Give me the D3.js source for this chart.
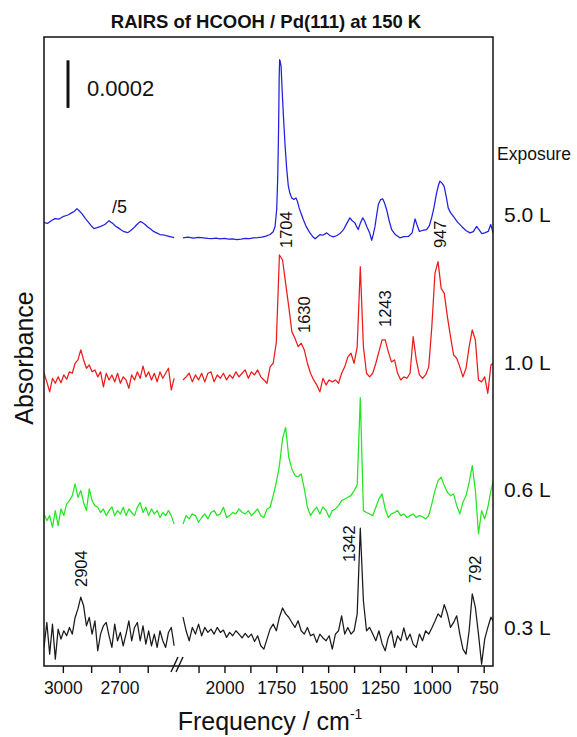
<!DOCTYPE html>
<html>
<head>
<meta charset="utf-8">
<script src="https://cdn.jsdelivr.net/npm/d3@7"></script>
<style>
  body { margin: 0; background: #fff; }
  svg { display: block; }
  text { font-family: "Liberation Sans", Arial, Helvetica, sans-serif; fill: #111; }
</style>
</head>
<body>
<svg id="chart" width="577" height="737"></svg>
<script>
// ---------------- data ----------------
// absorbance values are in units of 1e-4; each trace is stacked by its offset
const unit = 1e-4;
const scaleBarValue = 0.0002;

const exposures = ["5.0 L", "1.0 L", "0.6 L", "0.3 L"];
const offsets = [18.0, 12.1, 6.4, 1.4];

// sampling grids (cm-1) for the C-H region and the fingerprint region
const wnHigh = [3100,3085,3070,3055,3040,3025,3010,2995,2980,2965,2950,2935,2920,2905,2890,2875,
  2860,2845,2830,2815,2800,2785,2770,2755,2740,2725,2710,2695,2680,2665,2650,2635,2620,2605,2590,
  2575,2560,2545,2530,2515,2500,2485,2470,2455,2440,2425,2410];
const wnLow = [2200,2185,2170,2155,2140,2125,2110,2095,2080,2065,2050,2035,2020,2005,1990,1975,1960,
  1945,1930,1915,1900,1885,1870,1855,1840,1825,1810,1795,1780,1765,1750,1735,1720,1705,1690,1675,
  1660,1645,1630,1615,1600,1585,1570,1555,1540,1525,1510,1495,1480,1465,1450,1435,1420,1405,1390,
  1375,1360,1345,1330,1315,1300,1285,1270,1255,1240,1225,1210,1195,1180,1165,1150,1135,1120,1105,
  1090,1075,1060,1045,1030,1015,1000,985,970,955,940,925,910,895,880,865,850,835,820,805,790,775,
  760,745,730,715,705];

// 5.0 L (C-H region shown divided by 5)
const blueHigh = [[3100,0.63],[3080,0.60],[3060,0.72],[3042,0.80],[3020,0.78],[3000,0.88],[2985,0.92],
  [2970,0.96],[2952,1.05],[2940,1.10],[2925,1.22],[2912,1.12],[2899,1.01],[2880,0.80],[2867,0.67],
  [2850,0.50],[2835,0.38],[2818,0.42],[2803,0.46],[2777,0.55],[2762,0.66],[2755,0.71],[2745,0.65],
  [2734,0.59],[2720,0.48],[2708,0.42],[2690,0.32],[2676,0.25],[2655,0.21],[2640,0.30],[2628,0.38],
  [2607,0.55],[2595,0.64],[2586,0.67],[2575,0.62],[2564,0.55],[2550,0.45],[2538,0.38],[2517,0.25],
  [2500,0.19],[2485,0.13],[2470,0.12],[2453,0.08],[2432,0.04],[2410,0.00]];
const blueLow = [[2200,-0.01],[2175,0.02],[2150,-0.02],[2125,0.01],[2102,-0.01],[2080,-0.03],[2060,-0.04],
  [2040,-0.02],[2022,-0.05],[2000,-0.03],[1980,-0.06],[1960,-0.05],[1941,-0.08],[1920,-0.06],[1900,-0.03],
  [1880,-0.04],[1861,-0.01],[1840,0.00],[1820,0.02],[1800,0.06],[1780,0.13],[1765,0.25],[1756,0.47],
  [1748,1.20],[1743,2.60],[1739,4.60],[1736,6.80],[1734,7.48],[1731,7.40],[1727,7.20],[1722,6.20],
  [1715,5.00],[1708,3.90],[1700,2.90],[1692,2.16],[1684,1.85],[1676,1.67],[1665,1.60],[1655,1.67],
  [1648,1.52],[1640,1.25],[1630,1.00],[1620,0.76],[1605,0.45],[1588,0.20],[1575,0.05],[1563,-0.05],
  [1550,0.05],[1539,0.13],[1525,0.10],[1507,0.20],[1490,0.08],[1475,0.03],[1460,0.08],[1443,0.17],
  [1425,0.35],[1410,0.60],[1395,0.83],[1385,0.72],[1371,0.62],[1362,0.45],[1355,0.34],[1345,0.60],
  [1333,0.83],[1324,0.70],[1314,0.47],[1300,0.20],[1290,-0.11],[1282,0.15],[1274,0.47],[1266,0.95],
  [1258,1.39],[1247,1.60],[1237,1.63],[1228,1.45],[1218,1.18],[1206,0.72],[1194,0.34],[1175,0.12],
  [1154,-0.01],[1135,0.04],[1113,0.05],[1095,0.20],[1081,0.79],[1072,0.55],[1060,0.26],[1045,0.30],
  [1025,0.34],[1012,0.50],[1001,0.83],[990,1.25],[977,1.88],[968,2.20],[961,2.37],[952,2.30],
  [941,2.16],[930,1.70],[921,1.25],[910,1.05],[896,0.89],[876,0.65],[856,0.47],[836,0.30],[816,0.20],
  [800,0.25],[784,0.47],[770,0.30],[759,0.17],[745,0.20],[728,0.26],[716,0.55],[710,0.38],[705,0.20]];

// 1.0 L
const redHigh = [0.21,-0.16,-0.58,-0.01,-0.22,0.05,-0.20,0.13,-0.05,0.26,0.20,0.62,0.76,1.18,0.76,0.41,
  0.55,0.26,0.34,0.05,0.26,-0.37,0.20,-0.08,0.13,-0.16,0.20,-0.22,0.05,-0.08,-0.43,0.13,-0.08,0.26,
  -0.01,0.50,0.05,0.26,-0.08,0.20,-0.16,0.26,-0.01,0.20,0.41,-0.50,-0.01];
const redLow = [-0.08,0.05,0.20,-0.16,0.13,-0.08,0.20,-0.16,0.20,0.26,
  -0.16,0.13,-0.01,0.20,-0.08,0.13,-0.01,0.26,0.05,0.20,
  0.34,-0.01,0.26,0.13,0.34,0.05,-0.08,-0.22,0.47,0.62,
  1.50,5.17,4.96,3.98,3.00,1.95,1.67,1.32,1.46,1.18,
  0.62,0.20,-0.08,-0.29,-0.58,-0.01,-0.29,-0.08,-0.16,-0.08,
  -0.22,0.20,0.47,0.89,1.04,0.62,1.30,4.68,1.32,0.20,
  0.05,0.20,0.62,1.11,1.60,1.60,1.11,0.68,0.76,0.20,
  -0.08,0.05,-0.01,0.20,1.74,0.76,0.13,-0.01,0.13,0.47,
  2.16,4.40,4.89,3.77,3.56,2.58,1.74,0.97,0.83,0.47,
  0.05,0.41,1.32,2.02,1.60,-0.08,-0.16,0.05,-0.64,0.55,
  0.62];

// 0.6 L
const greenHigh = [-0.01,-0.29,-0.08,-0.57,0.13,-0.50,0.20,-0.08,0.41,0.55,0.76,1.25,0.69,0.97,0.47,
  0.13,1.04,0.55,0.34,0.27,0.05,0.20,-0.08,0.13,0.29,-0.08,0.13,-0.01,0.27,-0.08,0.20,0.05,-0.08,
  0.27,0.47,0.05,0.27,-0.08,0.20,-0.01,0.13,-0.16,0.05,-0.08,0.13,-0.08,-0.43];
const greenLow = [-0.43,-0.08,-0.22,-0.01,-0.08,-0.36,-0.16,-0.01,-0.22,0.05,
  0.13,-0.08,-0.01,0.27,-0.16,-0.08,0.05,-0.01,0.20,0.05,
  -0.01,0.13,-0.08,0.05,0.20,-0.08,-0.16,0.20,0.27,0.76,
  1.32,2.02,3.14,3.63,2.37,1.88,1.60,1.55,1.67,1.04,
  0.27,-0.08,0.13,0.27,-0.01,0.29,0.13,-0.16,0.13,0.20,
  0.34,0.55,0.62,0.69,0.76,0.97,1.20,4.88,0.13,0.05,
  -0.01,-0.08,0.27,0.62,0.83,0.20,-0.16,-0.01,0.05,0.13,
  -0.08,-0.01,-0.16,-0.08,-0.01,-0.16,-0.08,-0.13,-0.22,-0.08,
  0.41,0.97,1.39,1.53,1.18,0.90,0.76,0.83,0.34,-0.01,
  0.48,0.76,1.32,2.02,0.97,-0.85,0.13,-0.22,0.27,0.97,
  1.32];

// 0.3 L
const blackHigh = [-0.62,0.43,-0.90,0.36,-1.11,0.15,-0.27,0.08,-0.13,0.22,-0.06,0.64,1.00,1.49,1.13,
  0.29,0.64,-0.06,0.50,-0.76,-0.06,0.29,0.43,-0.13,-0.62,0.36,-0.34,0.01,-0.55,-0.06,0.50,-0.34,
  0.22,0.43,-0.34,0.29,-0.48,0.08,-0.55,-0.06,-0.62,0.08,-0.34,-0.62,0.01,0.22,-0.55];
const blackLow = [0.65,0.08,-0.34,0.22,-0.06,0.36,-0.13,0.22,0.01,0.15,
  -0.06,0.22,0.01,0.11,-0.20,0.01,-0.13,0.08,-0.06,-0.22,
  -0.03,-0.20,-0.06,-0.37,-0.13,-0.55,-0.69,-0.27,0.15,0.36,
  0.08,0.65,1.04,0.79,0.65,0.43,0.22,0.50,0.08,-0.06,
  0.22,-0.13,-0.06,-0.41,-0.06,-0.22,-0.34,-0.13,-0.69,-0.06,
  0.08,0.71,-0.06,0.22,-0.06,0.08,0.79,4.39,1.34,0.08,
  0.22,-0.06,-0.34,0.08,-0.45,-0.76,-0.20,0.08,-0.62,-0.13,
  -0.34,0.20,-0.31,-0.06,-0.48,-0.62,-0.06,-0.34,0.08,-0.06,
  0.20,0.48,0.79,0.65,1.18,0.79,0.22,0.43,0.71,-0.06,
  -0.69,-0.90,0.08,1.63,1.06,-0.06,-1.32,-0.27,0.22,0.65,
  0.50];

// axis ticks
const ticksHigh = [3000, 2850, 2700, 2550];
const tickLabelsHigh = [3000, 2700];
const ticksLow = [2125, 2000, 1875, 1750, 1625, 1500, 1375, 1250, 1125, 1000, 875, 750];
const tickLabelsLow = [2000, 1750, 1500, 1250, 1000, 750];

// peak assignments: [label, trace index, region]
const peaks = [["1704", 0, "low"], ["947", 0, "low"], ["1630", 1, "low"], ["1243", 1, "low"],
  ["2904", 3, "high"], ["1342", 3, "low"], ["792", 3, "low"]];

// ---------------- layout ----------------
const svg = d3.select("#chart");
const frame = { left: 44, right: 493, top: 37, bottom: 666 };
const colors = ["#2020e0", "#ee1a1a", "#22e622", "#1a1a1a"];

const xHigh = d3.scaleLinear().domain([3100, 2400]).range([frame.left, 176]);
const xLow = d3.scaleLinear().domain([2200, 705]).range([183, frame.right]);
const y = d3.scaleLinear().domain([0, 26.43]).range([frame.bottom, frame.top]);

const series = [
  { high: blueHigh, low: blueLow },
  { high: d3.zip(wnHigh, redHigh), low: d3.zip(wnLow, redLow) },
  { high: d3.zip(wnHigh, greenHigh), low: d3.zip(wnLow, greenLow) },
  { high: d3.zip(wnHigh, blackHigh), low: d3.zip(wnLow, blackLow) }
];

svg.append("defs").append("clipPath").attr("id", "plotClip")
  .append("rect").attr("x", frame.left).attr("y", frame.top)
  .attr("width", frame.right - frame.left).attr("height", frame.bottom - frame.top);

const traces = svg.append("g").attr("clip-path", "url(#plotClip)");
series.forEach((s, i) => {
  const off = offsets[i];
  const lineHigh = d3.line().x(d => xHigh(d[0])).y(d => y(d[1] + off));
  const lineLow = d3.line().x(d => xLow(d[0])).y(d => y(d[1] + off));
  [[s.high, lineHigh], [s.low, lineLow]].forEach(([pts, gen]) => {
    traces.append("path").datum(pts)
      .attr("d", gen).attr("fill", "none")
      .attr("stroke", colors[i]).attr("stroke-width", 1.25)
      .attr("stroke-linejoin", "round");
  });
});

// frame
svg.append("rect").attr("x", frame.left).attr("y", frame.top)
  .attr("width", frame.right - frame.left).attr("height", frame.bottom - frame.top)
  .attr("fill", "none").attr("stroke", "#111").attr("stroke-width", 1.5);

// bottom axis, split in two ranges
function drawAxis(scale, ticks, labelled) {
  const g = svg.append("g").attr("transform", `translate(0,${frame.bottom})`)
    .call(d3.axisBottom(scale).tickValues(ticks).tickSize(7).tickPadding(9)
      .tickFormat(d => labelled.includes(d) ? d : ""));
  g.select(".domain").remove();
  g.selectAll(".tick line").attr("stroke", "#111").attr("stroke-width", 1.4);
  g.selectAll(".tick text").attr("font-size", 17.5).attr("fill", "#111")
    .attr("font-family", '"Liberation Sans", Arial, sans-serif');
}
drawAxis(xHigh, ticksHigh, tickLabelsHigh);
drawAxis(xLow, ticksLow, tickLabelsLow);

// axis break marks
const brk = svg.append("g").attr("stroke", "#111").attr("stroke-width", 1.4);
[0, 5].forEach(dx => {
  brk.append("line").attr("x1", 171 + dx).attr("y1", frame.bottom + 6)
    .attr("x2", 178 + dx).attr("y2", frame.bottom - 9);
});

// title
svg.append("text").attr("x", 266).attr("y", 28).attr("text-anchor", "middle")
  .attr("font-size", 18.5).attr("font-weight", "bold").text("RAIRS of HCOOH / Pd(111) at 150 K");

// axis titles
const xt = svg.append("text").attr("x", 270).attr("y", 730).attr("text-anchor", "middle")
  .attr("font-size", 25);
xt.append("tspan").text("Frequency / cm");
xt.append("tspan").attr("font-size", 14).attr("dy", -11).text("-1");

svg.append("text").attr("transform", "translate(33,358) rotate(-90)")
  .attr("text-anchor", "middle").attr("font-size", 25).text("Absorbance");

// absorbance scale bar
const barX = 68, barBottom = 23.45;
svg.append("line").attr("x1", barX).attr("x2", barX)
  .attr("y1", y(barBottom)).attr("y2", y(barBottom + scaleBarValue / unit))
  .attr("stroke", "#111").attr("stroke-width", 3);
svg.append("text").attr("x", 87).attr("y", 96).attr("font-size", 22).text(scaleBarValue.toFixed(4));

// scaling note for the C-H region of the top trace
svg.append("text").attr("x", 112).attr("y", 213).attr("font-size", 18).text("/5");

// exposure labels
svg.append("text").attr("x", 497).attr("y", 160).attr("font-size", 17.5).text("Exposure");
const exposureY = [222, 370, 497, 635];
exposures.forEach((e, i) => {
  svg.append("text").attr("x", 504).attr("y", exposureY[i]).attr("font-size", 21).text(e);
});

// peak labels (rotated), offset from the band position they name
const peakPlacement = {
  "1704": [6.6, 248], "947": [3.2, 248], "1630": [9.3, 333], "1243": [9.9, 327],
  "2904": [6.3, 587], "1342": [-5.9, 562], "792": [5.7, 583]
};
peaks.forEach(([lab, , region]) => {
  const sc = region === "high" ? xHigh : xLow;
  const [dx, by] = peakPlacement[lab];
  svg.append("text")
    .attr("transform", `translate(${sc(+lab) + dx},${by}) rotate(-90)`)
    .attr("font-size", 16.5).text(lab);
});
</script>
</body>
</html>
